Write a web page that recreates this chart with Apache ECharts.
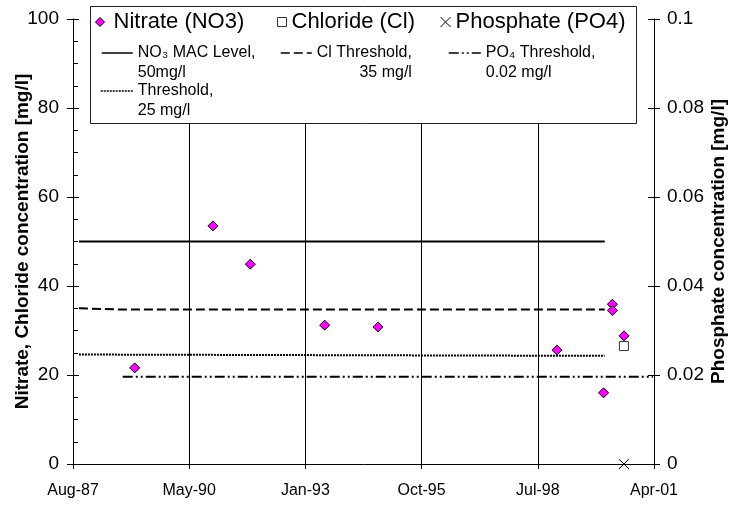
<!DOCTYPE html>
<html>
<head>
<meta charset="utf-8">
<script src="https://cdn.jsdelivr.net/npm/echarts@6/dist/echarts.min.js"></script>
<style>
html, body { margin: 0; padding: 0; background: #fff; }
#main { width: 734px; height: 508px; }
</style>
</head>
<body>
<div id="main"></div>
<script>
// sample dates and values
const nitrateDates = ['1989-01-23', '1990-11-27', '1991-10-15', '1993-07-16', '1994-10-18',
                      '1999-01-05', '2000-02-10', '2000-04-26', '2000-04-26', '2000-08-04'];
const nitrateValues = [21.6, 53.5, 44.9, 31.2, 30.8, 25.6, 16.0, 35.9, 34.5, 28.8];
const chlorideDates = ['2000-08-03'];
const chlorideValues = [26.5];
const phosphateDates = ['2000-08-03'];
const phosphateValues = [0];

// threshold lines
const macDates = ['1987-10-01', '2000-02-20'];
const macValues = [50, 50];
const clThrDates = ['1987-10-01', '1988-10-12', '2000-02-20'];
const clThrValues = [35.0, 34.7, 34.7];
const no3ThrDates = ['1987-10-01', '2000-02-20'];
const no3ThrValues = [24.6, 24.3];
const po4ThrDates = ['1988-10-12', '2001-04-10'];
const po4ThrValues = [0.0196, 0.0196];

// x axis in spreadsheet day numbers, ticks every 1000 days
const xMin = 32000, xMax = 37000, xStep = 1000;
const leftTicks = [0, 100, 20];
const rightTicks = [0, 0.1, 0.02];
const MONTHS = ['Jan', 'Feb', 'Mar', 'Apr', 'May', 'Jun', 'Jul', 'Aug', 'Sep', 'Oct', 'Nov', 'Dec'];

const DAY = 86400000;
const BASE = Date.UTC(1899, 11, 30);
function toSerial(s) {
  const p = s.split('-');
  return (Date.UTC(+p[0], +p[1] - 1, +p[2]) - BASE) / DAY;
}
function serialLabel(v) {
  const d = new Date(BASE + v * DAY);
  return MONTHS[d.getUTCMonth()] + '-' + String(d.getUTCFullYear()).slice(2);
}
function pairs(dates, values) {
  return dates.map((d, i) => [toSerial(d), values[i]]);
}

const FONT = '"Liberation Sans", Arial, sans-serif';
const DIAMOND = 'path://M5,0L10,5L5,10L0,5Z';
const SQUARE = 'path://M0,0H10V10H0Z';
const CROSS = 'path://M0,0L10,10M10,0L0,10';

const MAC = 'NO₃ MAC Level';
const CLT = 'Cl Threshold';
const PO4T = 'PO₄ Threshold';
const NO3T = 'Threshold';

function markerLegend(name, icon, left, w, h) {
  return {
    data: [{ name: name, icon: icon }],
    left: left, top: 11, padding: 0, selectedMode: false,
    itemWidth: w, itemHeight: h,
    itemStyle: { borderWidth: 1 },
    textStyle: { fontFamily: FONT, fontSize: 22, color: '#000' }
  };
}
function lineLegend(name, left, top, w, text) {
  return {
    data: [name],
    left: left, top: top, padding: 0, selectedMode: false,
    itemWidth: w, itemHeight: 10,
    itemStyle: { opacity: 0 },
    lineStyle: { width: 1.5 },
    formatter: function () { return text; },
    textStyle: {
      fontFamily: FONT, fontSize: 16, color: '#000', lineHeight: 20,
      rich: {
        a: { fontFamily: FONT, fontSize: 16, lineHeight: 20 },
        r: { fontFamily: FONT, fontSize: 16, lineHeight: 20, align: 'right' }
      }
    }
  };
}

function tickAxis(pos, t) {
  // only outer half of the crossing ticks
  return {
    type: 'value', position: pos, min: t[0], max: t[1], interval: t[2],
    axisLine: { show: false },
    axisTick: { show: true, inside: false, length: 6, lineStyle: { color: '#000' } },
    axisLabel: { show: false },
    splitLine: { show: false }
  };
}

const chart = echarts.init(document.getElementById('main'));
chart.setOption({
  animation: false,
  backgroundColor: '#fff',
  textStyle: { fontFamily: FONT },
  grid: { left: 73, right: 80, top: 19, bottom: 44, containLabel: false, outerBoundsMode: 'none' },
  graphic: [{
    type: 'rect', z: 3,
    shape: { x: 90.5, y: 6.5, width: 546, height: 117 },
    style: { fill: '#fff', stroke: '#222', lineWidth: 1 }
  }],
  legend: [
    markerLegend('Nitrate (NO3)', DIAMOND, 95, 17, 9),
    markerLegend('Chloride (Cl)', SQUARE, 277, 9, 9),
    markerLegend('Phosphate (PO4)', CROSS, 440, 10, 10),
    lineLegend(MAC, 101, 23, 31, '\nNO₃ MAC Level,\n50mg/l'),
    lineLegend(CLT, 280, 23, 31, '\n{a|Cl Threshold,}\n{r|35 mg/l}'),
    lineLegend(PO4T, 448, 23, 32, '\nPO₄ Threshold,\n0.02 mg/l'),
    lineLegend(NO3T, 100, 61, 32, '\nThreshold,\n25 mg/l')
  ],
  xAxis: {
    type: 'value', min: xMin, max: xMax, interval: xStep,
    axisLine: { lineStyle: { color: '#000', width: 1 } },
    axisTick: { inside: false, length: 5, lineStyle: { color: '#000' } },
    axisLabel: { color: '#000', fontSize: 16, margin: 19, formatter: serialLabel },
    splitLine: { show: true, lineStyle: { color: '#000', width: 1 } }
  },
  yAxis: [
    {
      type: 'value', position: 'left', min: leftTicks[0], max: leftTicks[1], interval: leftTicks[2],
      name: 'Nitrate, Chloride concentration [mg/l]',
      nameLocation: 'middle', nameGap: 41, nameMoveOverlap: false,
      nameTextStyle: { color: '#000', fontSize: 19, fontWeight: 'bold' },
      axisLine: { show: true, lineStyle: { color: '#000' } },
      axisTick: { show: true, inside: true, length: 6, lineStyle: { color: '#000' } },
      minorTick: { show: true, splitNumber: 4, length: 5, lineStyle: { color: '#000' } },
      axisLabel: { color: '#000', fontSize: 19, margin: 14 },
      splitLine: { show: false }
    },
    {
      type: 'value', position: 'right', min: rightTicks[0], max: rightTicks[1], interval: rightTicks[2],
      name: 'Phosphate concentration [mg/l]',
      nameLocation: 'middle', nameGap: 55, nameMoveOverlap: false,
      nameTextStyle: { color: '#000', fontSize: 19, fontWeight: 'bold' },
      axisLine: { show: true, lineStyle: { color: '#000' } },
      axisTick: { show: true, inside: true, length: 6, lineStyle: { color: '#000' } },
      axisLabel: { color: '#000', fontSize: 19, margin: 13 },
      splitLine: { show: false }
    },
    tickAxis('left', leftTicks),
    tickAxis('right', rightTicks)
  ],
  series: [
    {
      name: MAC, type: 'line', yAxisIndex: 0, symbol: 'none', z: 2,
      data: pairs(macDates, macValues),
      lineStyle: { color: '#000', width: 2, type: 'solid' }
    },
    {
      name: CLT, type: 'line', yAxisIndex: 0, symbol: 'none', z: 2,
      data: pairs(clThrDates, clThrValues),
      lineStyle: { color: '#000', width: 2, type: [9, 4] }
    },
    {
      name: NO3T, type: 'line', yAxisIndex: 0, symbol: 'none', z: 2,
      data: pairs(no3ThrDates, no3ThrValues),
      lineStyle: { color: '#000', width: 2, type: [2, 1] }
    },
    {
      name: PO4T, type: 'line', yAxisIndex: 1, symbol: 'none', z: 2,
      data: pairs(po4ThrDates, po4ThrValues),
      lineStyle: { color: '#000', width: 2, type: [10, 3, 2, 3, 2, 3] }
    },
    {
      name: 'Nitrate (NO3)', type: 'scatter', yAxisIndex: 0, z: 5,
      symbol: DIAMOND, symbolSize: 10,
      data: pairs(nitrateDates, nitrateValues),
      itemStyle: { color: '#ff00ff', borderColor: '#000', borderWidth: 1, opacity: 1 }
    },
    {
      name: 'Chloride (Cl)', type: 'scatter', yAxisIndex: 0, z: 5,
      symbol: SQUARE, symbolSize: 9,
      data: pairs(chlorideDates, chlorideValues),
      itemStyle: { color: '#fff', borderColor: '#333', borderWidth: 1, opacity: 1 }
    },
    {
      name: 'Phosphate (PO4)', type: 'scatter', yAxisIndex: 1, z: 5,
      symbol: CROSS, symbolSize: 10,
      data: pairs(phosphateDates, phosphateValues),
      itemStyle: { color: '#000', borderColor: '#000', borderWidth: 1, opacity: 1 }
    }
  ]
});
</script>
</body>
</html>
